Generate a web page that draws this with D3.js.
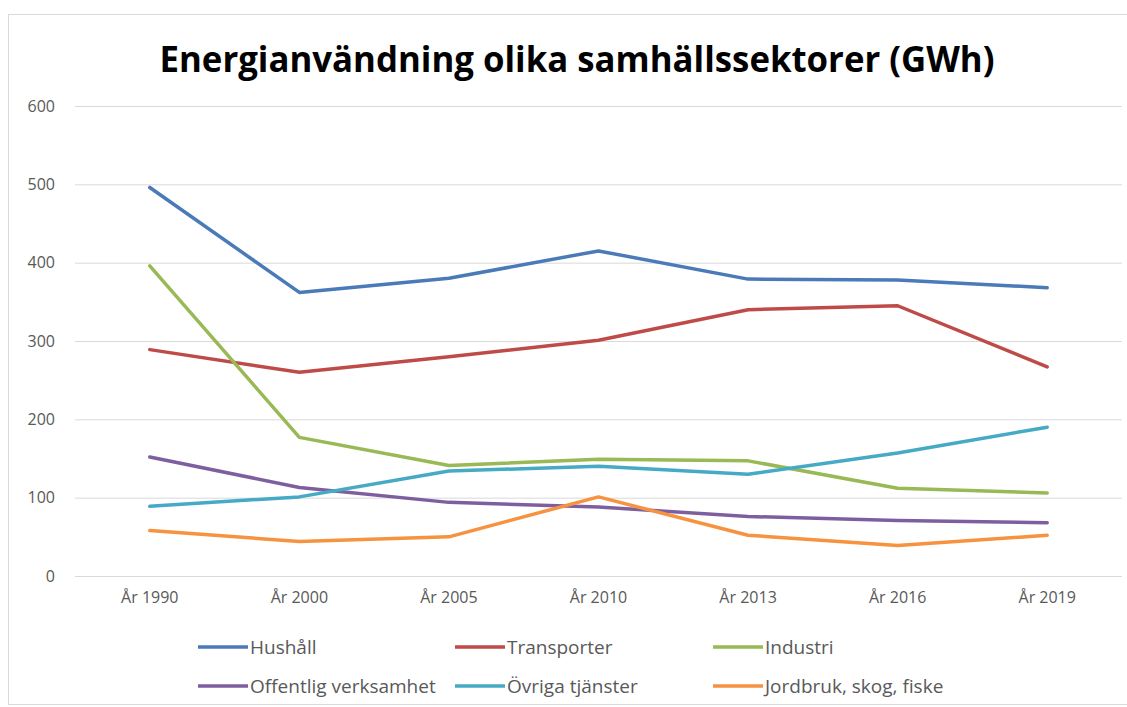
<!DOCTYPE html>
<html>
<head>
<meta charset="utf-8">
<title>Energianvändning olika samhällssektorer</title>
<script src="https://cdn.jsdelivr.net/npm/d3@7"></script>
<style>
  body { margin: 0; background: #fff; }
  svg text { font-family: "Liberation Sans Narrow", "Open Sans", sans-serif; }
</style>
</head>
<body>
<script>
//Data
var years = ["År 1990", "År 2000", "År 2005", "År 2010", "År 2013", "År 2016", "År 2019"];
var names = ["Hushåll", "Transporter", "Industri", "Offentlig verksamhet", "Övriga tjänster", "Jordbruk, skog, fiske"];
var hushall     = [496, 362, 380, 415, 379, 378, 368];
var transporter = [289, 260, 280, 301, 340, 345, 267];
var industri    = [396, 177, 141, 149, 147, 112, 106];
var offentlig   = [152, 113, 94, 88, 76, 71, 68];
var ovriga      = [89, 101, 134, 140, 130, 157, 190];
var jordbruk    = [58, 44, 50, 101, 52, 39, 52];
var yTicks = [0, 100, 200, 300, 400, 500, 600];

var series = [hushall, transporter, industri, offentlig, ovriga, jordbruk];
var colors = ["#4A7AB7", "#BE4B48", "#98B954", "#7D5FA0", "#46AAC5", "#F69240"];

var svgwidth = 1127,
    svgheight = 707;

var svg = d3.select("body").append("svg")
    .attr("width", svgwidth)
    .attr("height", svgheight);

//Chart border
svg.append("rect")
    .attr("x", 8.5).attr("y", 14.5)
    .attr("width", 1130).attr("height", 690)
    .attr("fill", "#fff")
    .attr("stroke", "#d9d9d9");

//Title
svg.append("text")
    .attr("x", 577).attr("y", 72)
    .attr("text-anchor", "middle")
    .attr("font-size", 36)
    .attr("font-weight", "bold")
    .attr("fill", "#000")
    .attr("textLength", 835)
    .attr("lengthAdjust", "spacingAndGlyphs")
    .text("Energianvändning olika samhällssektorer (GWh)");

//Scales
var x = d3.scaleBand().domain(years).range([75, 1122]),
    y = d3.scaleLinear().domain([0, 600]).range([576, 106]);

//Gridlines and y labels
var yAxis = svg.append("g")
    .attr("transform", "translate(75,0)")
    .call(d3.axisLeft(y).tickValues(yTicks).tickSize(-1047).tickPadding(20));
yAxis.select(".domain").remove();
yAxis.selectAll(".tick line").attr("stroke", "#d9d9d9");
yAxis.selectAll(".tick text")
    .attr("fill", "#595959")
    .attr("font-size", 16);

//x labels
var xAxis = svg.append("g")
    .attr("transform", "translate(0,576)")
    .call(d3.axisBottom(x).tickSize(0).tickPadding(16));
xAxis.select(".domain").remove();
xAxis.selectAll(".tick text")
    .attr("fill", "#595959")
    .attr("font-size", 16);

//Lines
var line = d3.line()
    .x(function(d, i) { return x(years[i]) + x.bandwidth() / 2; })
    .y(function(d) { return y(d); });

svg.selectAll(".series")
    .data(series)
    .enter().append("path")
      .attr("class", "series")
      .attr("fill", "none")
      .attr("stroke", function(d, i) { return colors[i]; })
      .attr("stroke-width", 3.5)
      .attr("stroke-linejoin", "round")
      .attr("stroke-linecap", "round")
      .attr("d", line);

//Legend, two rows of three
var colX = [198, 455, 713],
    rowY = [647, 686];

var legend = svg.selectAll(".legend")
    .data(names)
    .enter().append("g")
      .attr("class", "legend")
      .attr("transform", function(d, i) {
        return "translate(" + colX[i % 3] + "," + rowY[Math.floor(i / 3)] + ")";
      });

legend.append("line")
    .attr("x1", 0).attr("x2", 50)
    .attr("stroke", function(d, i) { return colors[i]; })
    .attr("stroke-width", 3.5);

legend.append("text")
    .attr("x", 52)
    .attr("dy", "0.35em")
    .attr("fill", "#595959")
    .attr("font-size", 19)
    .text(function(d) { return d; });
</script>
</body>
</html>
